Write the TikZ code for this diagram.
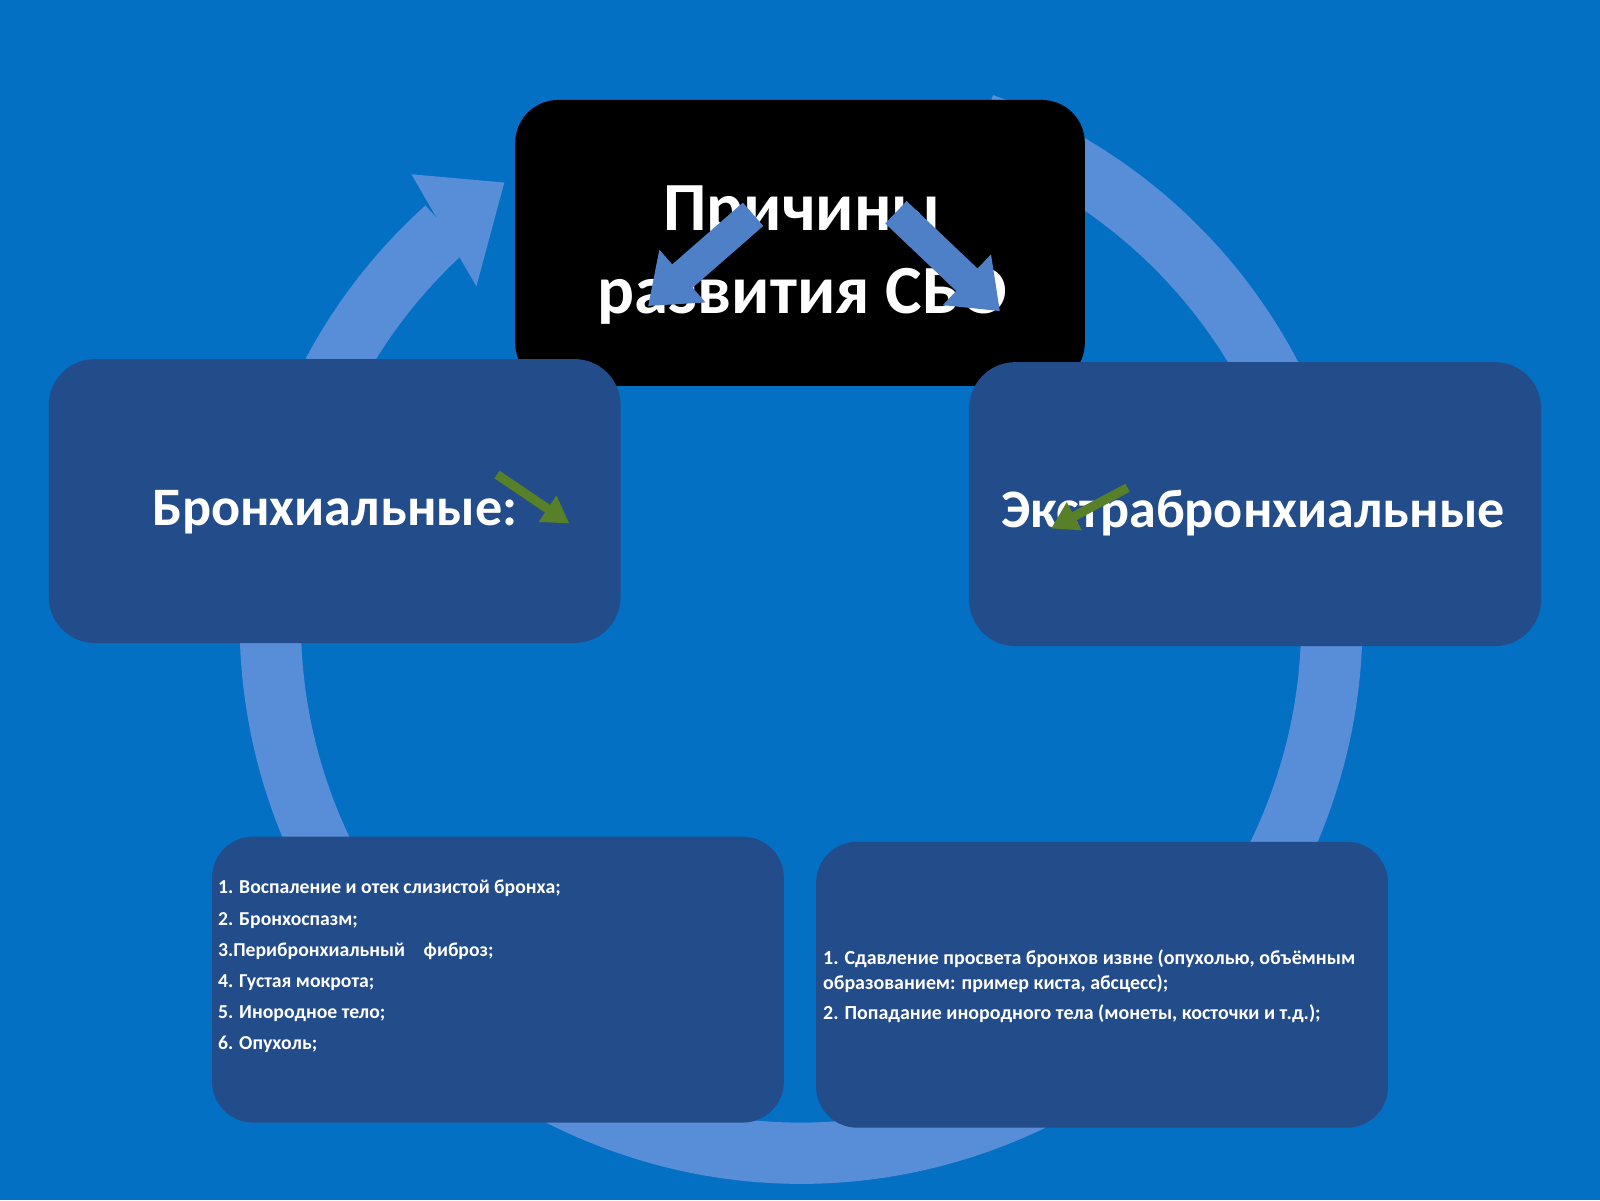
\documentclass[tikz,border=0pt]{standalone}
\usepackage{fontspec}
\setmainfont{Carlito}
\usetikzlibrary{arrows.meta,positioning}

\definecolor{slideblue}{RGB}{4,112,196}
\definecolor{ringblue}{RGB}{88,142,216}
\definecolor{boxblue}{RGB}{35,76,138}
\definecolor{arrowblue}{RGB}{78,128,200}
\definecolor{olivearrow}{RGB}{88,128,40}

\tikzset{
  titlebox/.style={fill=black, rounded corners=0.43cm, minimum width=5.69cm, minimum height=2.856cm, inner sep=0pt},
  titletext/.style={text=white, align=center, font=\bfseries\fontsize{19.6}{23.8}\selectfont, inner sep=0pt},
  groupbox/.style={fill=boxblue, rounded corners=0.46cm, minimum width=5.712cm, minimum height=2.836cm, inner sep=0pt},
  grouptext/.style={text=white, anchor=base, inner sep=0pt, font=\bfseries\fontsize{15.4}{18}\selectfont},
  listbox/.style={fill=boxblue, rounded corners=0.41cm, minimum width=5.712cm, minimum height=2.856cm, inner sep=0pt},
  listtext/.style={text=white, align=left, anchor=north west, inner sep=0pt},
  ringline/.style={ringblue, line width=0.612cm},
  splitarrow/.style={arrowblue, line width=8.8pt, -{Triangle[width=19pt,length=13pt]}},
  smallarrow/.style={olivearrow, line width=2.6pt, -{Triangle[width=8.5pt,length=7.5pt]}}
}

\begin{document}
\begin{tikzpicture}[x=0.0102cm,y=-0.0102cm]
  % slide background
  \fill[slideblue] (0,0) rectangle (1568,1176);
  \useasboundingbox (0,0) rectangle (1568,1176);

  % cycle ring behind the boxes
  \coordinate (ringc) at (785,610);
  \draw[ringline] (ringc) ++(-70:520) arc[start angle=-70, end angle=228, radius=520];
  \fill[ringblue] ([shift={(226:458)}]ringc) -- ([shift={(236:520)}]ringc) -- ([shift={(229:582)}]ringc) -- cycle;

  % top box
  \node[titlebox] (cause) at (784,238) {};
  \node[titletext] (causetext) at (786,250) {Причины\\развития СБО};

  % middle boxes
  \node[groupbox] (bronch) at (328,491) {};
  \node[groupbox] (extra) at (1230,494) {};
  \node[grouptext] (bronchtext) at (328,515) {Бронхиальные:};
  \node[grouptext] (extratext) at (1228,517) {Экстрабронхиальные};

  % bottom boxes
  \node[listbox] (bronchbox) at (488,960) {};
  \node[listbox] (extrabox) at (1080,965) {};
  \node[listtext, font=\bfseries\fontsize{5.6}{8.85}\selectfont] (bronchlist) at (213,862) {%
    1. Воспаление и отек слизистой бронха;\\
    2. Бронхоспазм;\\
    3.Перибронхиальный\hspace{4pt} фиброз;\\
    4. Густая мокрота;\\
    5. Инородное тело;\\
    6. Опухоль;};
  \node[listtext, font=\bfseries\fontsize{5.67}{7}\selectfont] (extralist) at (806,930) {%
    1. Сдавление просвета бронхов извне (опухолью, объёмным\\
    образованием: пример киста, абсцесс);\\[1.7pt]
    2. Попадание инородного тела (монеты, косточки и т.д.);};

  % arrows over the top box
  \coordinate (ltail) at (738,210);
  \coordinate (ltip) at (635,300);
  \coordinate (rtail) at (878,208);
  \coordinate (rtip) at (980,305);
  \draw[splitarrow] (ltail) -- (ltip);
  \draw[splitarrow] (rtail) -- (rtip);

  % small arrows in the middle boxes
  \coordinate (gltail) at (487,465);
  \coordinate (gltip) at (558,513);
  \coordinate (grtail) at (1105,478);
  \coordinate (grtip) at (1030,518);
  \draw[smallarrow] (gltail) -- (gltip);
  \draw[smallarrow] (grtail) -- (grtip);
\end{tikzpicture}
\end{document}
